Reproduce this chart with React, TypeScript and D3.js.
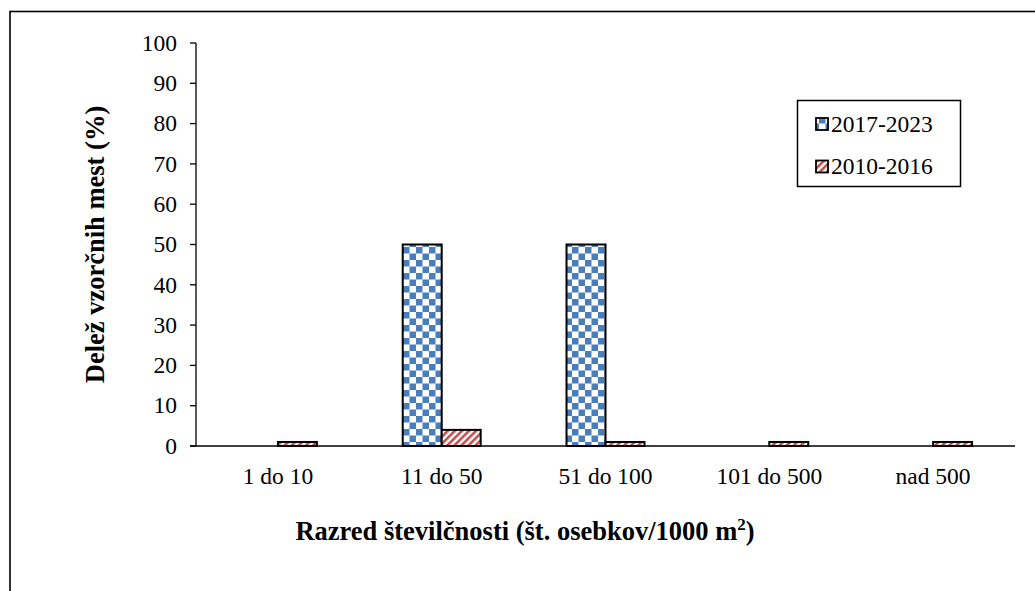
import React from "react";
import * as d3 from "d3";

const categories = ["1 do 10", "11 do 50", "51 do 100", "101 do 500", "nad 500"];
const series2017 = [0, 50, 50, 0, 0];
const series2010 = [1, 4, 1, 1, 1];
const seriesNames = ["2017-2023", "2010-2016"];
const yTicks = [0, 10, 20, 30, 40, 50, 60, 70, 80, 90, 100];

const W = 1035;
const H = 591;
const margin = { left: 196, right: 20, top: 43, bottom: 145 };
const FONT = "Liberation Serif, DejaVu Serif, serif";

export default function App() {
  const x = d3
    .scaleBand<string>()
    .domain(categories)
    .range([margin.left, W - margin.right])
    .paddingInner(0)
    .paddingOuter(0);
  const y = d3.scaleLinear().domain([0, 100]).range([H - margin.bottom, margin.top]);
  const step = x.bandwidth();
  const barW = step * 0.238;
  const blue = "#4a7ebb";
  const red = "#c0504d";
  const y0 = y(0);

  const rows = categories.map((c, i) => ({ c, a: series2017[i], b: series2010[i] }));
  const ts = { fontFamily: FONT } as React.CSSProperties;

  return (
    <svg
      width={W}
      height={H}
      style={{ position: "absolute", left: 0, top: 0, background: "#fff", fontFamily: FONT }}
    >
      <defs>
        <pattern id="checker" patternUnits="userSpaceOnUse" width={13} height={13} x={0} y={0}>
          <rect width={13} height={13} fill="#fff" />
          <rect x={0} y={0} width={6.5} height={6.5} fill={blue} />
          <rect x={6.5} y={6.5} width={6.5} height={6.5} fill={blue} />
        </pattern>
        <pattern
          id="stripes"
          patternUnits="userSpaceOnUse"
          width={5}
          height={5}
          patternTransform="rotate(45)"
        >
          <rect width={5} height={5} fill="#fff" />
          <rect x={0} y={0} width={2.6} height={5} fill={red} />
        </pattern>
      </defs>
      <rect x={0} y={0} width={W} height={H} fill="#fff" />
      {/* outer frame */}
      <rect x={10} y={11.5} width={W + 20} height={H + 20} fill="none" stroke="#000" strokeWidth={1.6} />

      {/* y axis */}
      <line x1={margin.left} x2={margin.left} y1={y(100)} y2={y0} stroke="#000" strokeWidth={1.3} />
      {yTicks.map((t) => (
        <g key={t}>
          <line x1={margin.left - 6} x2={margin.left} y1={y(t)} y2={y(t)} stroke="#000" strokeWidth={1.3} />
          <text style={ts} x={margin.left - 19} y={y(t)} dy="0.33em" textAnchor="end" fontSize={23.5} fill="#000">
            {t}
          </text>
        </g>
      ))}

      {/* bars */}
      {rows.map((r) => {
        const cx = (x(r.c) as number) + step / 2;
        return (
          <g key={r.c}>
            {r.a > 0 && (
              <rect
                x={cx - barW}
                y={y(r.a)}
                width={barW}
                height={y0 - y(r.a)}
                fill="url(#checker)"
                stroke="#000"
                strokeWidth={2}
              />
            )}
            {r.b > 0 && (
              <rect
                x={cx}
                y={y(r.b)}
                width={barW}
                height={y0 - y(r.b)}
                fill="url(#stripes)"
                stroke="#000"
                strokeWidth={2}
              />
            )}
          </g>
        );
      })}

      {/* x axis */}
      <line x1={margin.left - 6} x2={W - margin.right} y1={y0} y2={y0} stroke="#000" strokeWidth={1.3} />
      {categories.map((c) => (
        <text
          key={c}
          style={ts}
          x={(x(c) as number) + step / 2}
          y={y0 + 38}
          textAnchor="middle"
          fontSize={23.5}
          fill="#000"
        >
          {c}
        </text>
      ))}

      {/* axis titles */}
      <text
        style={ts}
        transform={`translate(104, ${(y(100) + y0) / 2}) rotate(-90)`}
        textAnchor="middle"
        fontSize={26.5}
        fontWeight="bold"
        fill="#000"
      >
        Delež vzorčnih mest (%)
      </text>
      <text style={ts} x={525} y={540} textAnchor="middle" fontSize={26.5} fontWeight="bold" fill="#000">
        Razred številčnosti (št. osebkov/1000 m
        <tspan fontSize={17} dy={-10}>2</tspan>
        <tspan dy={10}>)</tspan>
      </text>

      {/* legend */}
      <rect x={797.5} y={100.5} width={163} height={86} fill="#fff" stroke="#000" strokeWidth={1.5} />
      {seriesNames.map((n, i) => {
        const cy = 124 + i * 42.5;
        return (
          <g key={n}>
            <rect
              x={816}
              y={cy - 6}
              width={12}
              height={12}
              fill={i === 0 ? "url(#checker)" : "url(#stripes)"}
              stroke="#000"
              strokeWidth={1.8}
            />
            <text style={ts} x={831} y={cy} dy="0.33em" fontSize={23.5} fill="#000">
              {n}
            </text>
          </g>
        );
      })}
    </svg>
  );
}
